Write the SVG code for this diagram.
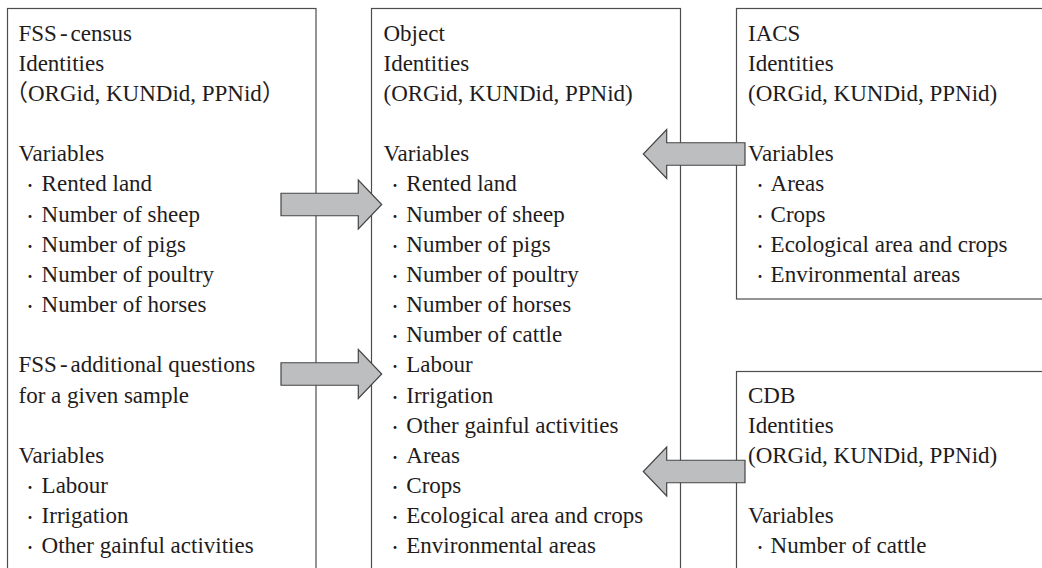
<svg xmlns="http://www.w3.org/2000/svg" width="1042" height="568" viewBox="0 0 1042 568">
<defs>
<style>
.box{fill:#ffffff;stroke:#4d4d4d;stroke-width:1.2}
.t{font-family:"Liberation Serif","Noto Sans CJK JP",serif;font-size:23px;fill:#1f1c1d}
.b{font-size:14px}
.arr{fill:#bdbec0;stroke:#454545;stroke-width:1.2;stroke-linejoin:miter}
</style>
</defs>
<rect width="1042" height="568" fill="#ffffff"/>
<g id="node-fss">
<rect class="box" x="7.5" y="8.5" width="308.5" height="580"/>
<text class="t" x="18.5" y="40.7">FSS<tspan dx="3">-</tspan><tspan dx="3">census</tspan></text>
<text class="t" x="18.5" y="70.85">Identities</text>
<text class="t" x="5" y="101">（ORGid, KUNDid, PPNid）</text>
<text class="t" x="18.5" y="161.3">Variables</text>
<text class="t" x="23" y="191.45"><tspan class="b" dy="-1">・</tspan><tspan x="41.6" y="191.45">Rented land</tspan></text>
<text class="t" x="23" y="221.6"><tspan class="b" dy="-1">・</tspan><tspan x="41.6" y="221.6">Number of sheep</tspan></text>
<text class="t" x="23" y="251.75"><tspan class="b" dy="-1">・</tspan><tspan x="41.6" y="251.75">Number of pigs</tspan></text>
<text class="t" x="23" y="281.9"><tspan class="b" dy="-1">・</tspan><tspan x="41.6" y="281.9">Number of poultry</tspan></text>
<text class="t" x="23" y="312.05"><tspan class="b" dy="-1">・</tspan><tspan x="41.6" y="312.05">Number of horses</tspan></text>
<text class="t" x="18.5" y="372.35">FSS<tspan dx="3">-</tspan><tspan dx="3">additional questions</tspan></text>
<text class="t" x="18.5" y="402.5">for a given sample</text>
<text class="t" x="18.5" y="462.8">Variables</text>
<text class="t" x="23" y="492.95"><tspan class="b" dy="-1">・</tspan><tspan x="41.6" y="492.95">Labour</tspan></text>
<text class="t" x="23" y="523.1"><tspan class="b" dy="-1">・</tspan><tspan x="41.6" y="523.1">Irrigation</tspan></text>
<text class="t" x="23" y="553.25"><tspan class="b" dy="-1">・</tspan><tspan x="41.6" y="553.25">Other gainful activities</tspan></text>
</g>
<g id="node-object">
<rect class="box" x="371.5" y="8.5" width="309" height="580"/>
<text class="t" x="383.5" y="40.7">Object</text>
<text class="t" x="383.5" y="70.85">Identities</text>
<text class="t" x="383.5" y="101">(ORGid, KUNDid, PPNid)</text>
<text class="t" x="383.5" y="161.3">Variables</text>
<text class="t" x="388" y="191.45"><tspan class="b" dy="-1">・</tspan><tspan x="406.3" y="191.45">Rented land</tspan></text>
<text class="t" x="388" y="221.6"><tspan class="b" dy="-1">・</tspan><tspan x="406.3" y="221.6">Number of sheep</tspan></text>
<text class="t" x="388" y="251.75"><tspan class="b" dy="-1">・</tspan><tspan x="406.3" y="251.75">Number of pigs</tspan></text>
<text class="t" x="388" y="281.9"><tspan class="b" dy="-1">・</tspan><tspan x="406.3" y="281.9">Number of poultry</tspan></text>
<text class="t" x="388" y="312.05"><tspan class="b" dy="-1">・</tspan><tspan x="406.3" y="312.05">Number of horses</tspan></text>
<text class="t" x="388" y="342.2"><tspan class="b" dy="-1">・</tspan><tspan x="406.3" y="342.2">Number of cattle</tspan></text>
<text class="t" x="388" y="372.35"><tspan class="b" dy="-1">・</tspan><tspan x="406.3" y="372.35">Labour</tspan></text>
<text class="t" x="388" y="402.5"><tspan class="b" dy="-1">・</tspan><tspan x="406.3" y="402.5">Irrigation</tspan></text>
<text class="t" x="388" y="432.65"><tspan class="b" dy="-1">・</tspan><tspan x="406.3" y="432.65">Other gainful activities</tspan></text>
<text class="t" x="388" y="462.8"><tspan class="b" dy="-1">・</tspan><tspan x="406.3" y="462.8">Areas</tspan></text>
<text class="t" x="388" y="492.95"><tspan class="b" dy="-1">・</tspan><tspan x="406.3" y="492.95">Crops</tspan></text>
<text class="t" x="388" y="523.1"><tspan class="b" dy="-1">・</tspan><tspan x="406.3" y="523.1">Ecological area and crops</tspan></text>
<text class="t" x="388" y="553.25"><tspan class="b" dy="-1">・</tspan><tspan x="406.3" y="553.25">Environmental areas</tspan></text>
</g>
<g id="node-iacs">
<rect class="box" x="736.5" y="8.5" width="320" height="290.5"/>
<text class="t" x="748" y="40.7">IACS</text>
<text class="t" x="748" y="70.85">Identities</text>
<text class="t" x="748" y="101">(ORGid, KUNDid, PPNid)</text>
<text class="t" x="748" y="161.3">Variables</text>
<text class="t" x="753" y="191.45"><tspan class="b" dy="-1">・</tspan><tspan x="770.6" y="191.45">Areas</tspan></text>
<text class="t" x="753" y="221.6"><tspan class="b" dy="-1">・</tspan><tspan x="770.6" y="221.6">Crops</tspan></text>
<text class="t" x="753" y="251.75"><tspan class="b" dy="-1">・</tspan><tspan x="770.6" y="251.75">Ecological area and crops</tspan></text>
<text class="t" x="753" y="281.9"><tspan class="b" dy="-1">・</tspan><tspan x="770.6" y="281.9">Environmental areas</tspan></text>
</g>
<g id="node-cdb">
<rect class="box" x="736.5" y="371.5" width="320" height="220"/>
<text class="t" x="748" y="402.5">CDB</text>
<text class="t" x="748" y="432.65">Identities</text>
<text class="t" x="748" y="462.8">(ORGid, KUNDid, PPNid)</text>
<text class="t" x="748" y="523.1">Variables</text>
<text class="t" x="753" y="553.25"><tspan class="b" dy="-1">・</tspan><tspan x="770.6" y="553.25">Number of cattle</tspan></text>
</g>
<g id="connectors">
<polygon class="arr" points="281,193.25 358.3,193.25 358.3,180 381.7,204.5 358.3,229 358.3,215.75 281,215.75"/>
<polygon class="arr" points="281,362.75 358.3,362.75 358.3,349.5 381.7,374 358.3,398.5 358.3,385.25 281,385.25"/>
<polygon class="arr" points="745,142.75 666.7,142.75 666.7,129.5 643.3,154 666.7,178.5 666.7,165.25 745,165.25"/>
<polygon class="arr" points="745,460.25 666.7,460.25 666.7,447 643.3,471.5 666.7,496 666.7,482.75 745,482.75"/>
</g>
</svg>
